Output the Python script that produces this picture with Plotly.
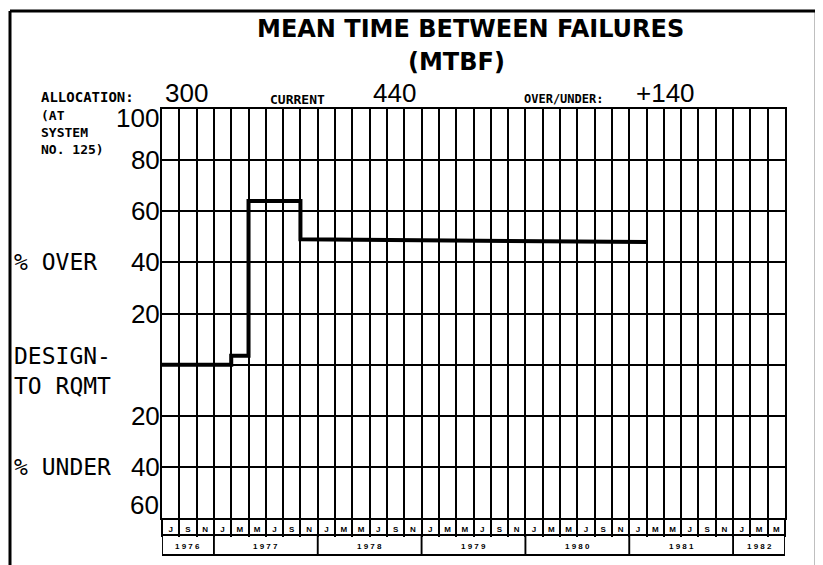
import plotly.graph_objects as go

# bimonthly columns, Jul 1976 .. May 1982
month_letters = ['J', 'S', 'N'] + ['J', 'M', 'M', 'J', 'S', 'N'] * 5 + ['J', 'M', 'M']
years = ['1976', '1977', '1978', '1979', '1980', '1981', '1982']
cols_per_year = [3, 6, 6, 6, 6, 6, 3]

# MTBF vs design-to requirement (% over / under), x = column boundary
mtbf_x = [0, 4, 4, 5, 5, 8, 8, 28]
mtbf_pct = [0, 0, 3.5, 3.5, 64, 64, 49, 48]

pct_ticks = [100, 80, 60, 40, 20, 0, -20, -40, -60]
pct_text = ['', '80', '60', '40', '20', '', '20', '40', '']

allocation = '300'
current = '440'
over_under = '+140'

W, H = 823, 565
OFF = 8  # page body margin
# plot area in page pixels
L, R, T, B = 162, 785, 109, 518
n_cols = len(month_letters)


def px(x):
    return (x - L) / (R - L)


def py(y):
    return (B - y) / (B - T)


NUM_FONT = dict(family='Liberation Sans, Arial, sans-serif', size=26, color='black')
TYPE_FONT = dict(family='DejaVu Sans Mono, monospace', size=23, color='black')
SMALL_FONT = dict(family='DejaVu Sans Mono, monospace', size=14, color='black', weight='bold')

fig = go.Figure()
fig.add_trace(go.Scatter(x=mtbf_x, y=mtbf_pct, mode='lines',
                         line=dict(color='black', width=4), showlegend=False,
                         hoverinfo='skip'))

fig.update_xaxes(range=[0, n_cols], showgrid=False, zeroline=False,
                 tickmode='array', tickvals=[i + 0.5 for i in range(n_cols)],
                 ticktext=month_letters, ticks='', ticklabelstandoff=2,
                 tickfont=dict(family='Liberation Sans, Arial', size=8, color='black', weight='bold'),
                 showline=True, linecolor='black', linewidth=2, mirror=True,
                 minor=dict(tickmode='array', tickvals=list(range(n_cols + 1)),
                            showgrid=True, gridcolor='black', gridwidth=1.9,
                            ticks='outside', ticklen=17, tickcolor='black', tickwidth=1.9))
fig.update_yaxes(range=[-60, 100], tickmode='array', tickvals=pct_ticks, ticktext=pct_text,
                 showgrid=True, gridcolor='black', gridwidth=1.9, zeroline=False,
                 tickfont=NUM_FONT, ticks='', ticklabelstandoff=-5,
                 showline=True, linecolor='black', linewidth=2, mirror=True)

line = dict(color='black', width=1.9)
shapes = []
# month row bottom and year row frame
shapes.append(dict(type='line', xref='x', yref='paper', x0=0, x1=n_cols,
                   y0=py(535), y1=py(535), line=line))
shapes.append(dict(type='line', xref='x', yref='paper', x0=0, x1=n_cols,
                   y0=py(555), y1=py(555), line=line))
edge = 0
year_centers = []
for yr, n in zip(years, cols_per_year):
    year_centers.append(edge + n / 2)
    shapes.append(dict(type='line', xref='x', yref='paper', x0=edge, x1=edge,
                       y0=py(535), y1=py(555), line=line))
    edge += n
shapes.append(dict(type='line', xref='x', yref='paper', x0=edge, x1=edge,
                   y0=py(535), y1=py(555), line=line))
# outer frame of the page
shapes.append(dict(type='line', xref='paper', yref='paper', x0=px(10), x1=px(818),
                   y0=py(11), y1=py(11), line=dict(color='black', width=3)))
shapes.append(dict(type='line', xref='paper', yref='paper', x0=px(10), x1=px(10),
                   y0=py(11), y1=py(575), line=dict(color='black', width=3)))
shapes.append(dict(type='line', xref='paper', yref='paper', x0=px(816), x1=px(816),
                   y0=py(11), y1=py(575), line=dict(color='black', width=2.5)))

ann = []
for yr, c in zip(years, year_centers):
    ann.append(dict(x=c, y=py(546), xref='x', yref='paper', yanchor='middle',
                    text=' '.join(yr), showarrow=False,
                    font=dict(family='Liberation Sans, Arial', size=8, color='black', weight='bold')))

# end labels of the % scale sit inside the grid edges
ann.append(dict(x=px(161), y=py(118), xref='paper', yref='paper', xanchor='right',
                yanchor='middle', text='100', showarrow=False, font=NUM_FONT))
ann.append(dict(x=px(161), y=py(505), xref='paper', yref='paper', xanchor='right',
                yanchor='middle', text='60', showarrow=False, font=NUM_FONT))

title_font = dict(family='DejaVu Sans, sans-serif', size=24, color='black', weight='bold')
ann.append(dict(x=px(470), y=py(29), xref='paper', yref='paper', xanchor='center', yanchor='middle',
                text='MEAN TIME BETWEEN FAILURES', showarrow=False, font=title_font))
ann.append(dict(x=px(456), y=py(62), xref='paper', yref='paper', xanchor='center', yanchor='middle',
                text='(MTBF)', showarrow=False, font=title_font))

ann.append(dict(x=px(39), y=py(97), xref='paper', yref='paper', xanchor='left', yanchor='middle',
                text='ALLOCATION:', showarrow=False, font=SMALL_FONT))
ann.append(dict(x=px(39), y=py(106), xref='paper', yref='paper', xanchor='left', yanchor='top',
                text='(AT<br>SYSTEM<br>NO. 125)', align='left', showarrow=False,
                font=dict(SMALL_FONT, size=13)))
ann.append(dict(x=px(186), y=py(93), xref='paper', yref='paper', xanchor='center', yanchor='middle',
                text=allocation, showarrow=False, font=NUM_FONT))
ann.append(dict(x=px(268), y=py(99), xref='paper', yref='paper', xanchor='left', yanchor='middle',
                text='CURRENT', showarrow=False, font=dict(SMALL_FONT, size=13)))
ann.append(dict(x=px(394), y=py(93), xref='paper', yref='paper', xanchor='center', yanchor='middle',
                text=current, showarrow=False, font=NUM_FONT))
ann.append(dict(x=px(522), y=py(99), xref='paper', yref='paper', xanchor='left', yanchor='middle',
                text='OVER/UNDER:', showarrow=False, font=dict(SMALL_FONT, size=12)))
ann.append(dict(x=px(665), y=py(93), xref='paper', yref='paper', xanchor='center', yanchor='middle',
                text=over_under, showarrow=False, font=NUM_FONT))

ann.append(dict(x=px(12), y=40, xref='paper', yref='y', xanchor='left', yanchor='middle',
                text='% OVER', showarrow=False, font=TYPE_FONT))
ann.append(dict(x=px(12), y=-2.5, xref='paper', yref='y', xanchor='left', yanchor='middle',
                align='left', text='DESIGN-<br>TO RQMT', showarrow=False, font=TYPE_FONT))
ann.append(dict(x=px(12), y=-40, xref='paper', yref='y', xanchor='left', yanchor='middle',
                text='% UNDER', showarrow=False, font=TYPE_FONT))

fig.update_layout(width=W, height=H,
                  margin=dict(l=L - OFF, r=W - (R - OFF), t=T - OFF, b=H - (B - OFF)),
                  paper_bgcolor='white', plot_bgcolor='white',
                  shapes=shapes, annotations=ann)

fig.write_html("out.html")
